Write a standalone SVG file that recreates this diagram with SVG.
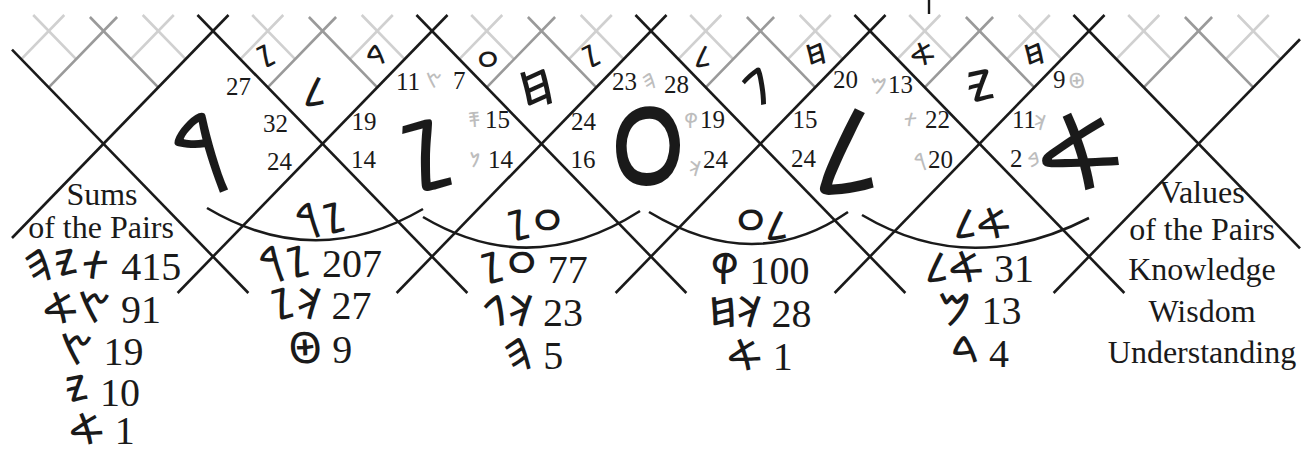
<svg xmlns="http://www.w3.org/2000/svg" xmlns:xlink="http://www.w3.org/1999/xlink" width="1301" height="455" viewBox="0 0 1301 455">
<style>
.blk{stroke:#1a1a1a;stroke-width:2.6;fill:none;stroke-linecap:butt}
.dk{stroke:#9a9a9a;stroke-width:2.6;fill:none}
.lt{stroke:#d0d0d0;stroke-width:2.6;fill:none}
text{direction:ltr;unicode-bidi:bidi-override;fill:#1a1a1a}
.ph{font-family:"Noto Sans Phoenician","DejaVu Sans",sans-serif}
.sr{font-family:"Liberation Serif","Times New Roman",serif}
.n{font-family:"Liberation Serif","Times New Roman",serif;font-size:25px}
.g{fill:#bdbdbd;font-family:"Noto Sans Phoenician","DejaVu Sans",sans-serif;font-size:21px}
.sm{font-size:31px}
.md{font-size:52px}
.lab{font-size:42px}
.row{font-size:40px}
.rg{font-size:43px}
.cap{font-size:32px}
</style>
<defs>
<path id="lx" d="M-15.53,-16L27.375,28.2M15.53,-16L-27.375,28.2" class="lt"/>
<path id="dx" d="M-13.59,-14L54.75,56.39M13.59,-14L-54.75,56.39" class="dk"/>
</defs>
<rect width="1301" height="455" fill="#fff"/>
<g id="connectors">
<g id="light-lattice">
<use xlink:href="#lx" x="48.75" y="31"/><use xlink:href="#lx" x="158.25" y="31"/>
<use xlink:href="#lx" x="267.75" y="31"/><use xlink:href="#lx" x="377.25" y="31"/>
<use xlink:href="#lx" x="486.75" y="31"/><use xlink:href="#lx" x="596.25" y="31"/>
<use xlink:href="#lx" x="705.75" y="31"/><use xlink:href="#lx" x="815.25" y="31"/>
<use xlink:href="#lx" x="924.75" y="31"/><use xlink:href="#lx" x="1034.25" y="31"/>
<use xlink:href="#lx" x="1143.75" y="31"/><use xlink:href="#lx" x="1253.25" y="31"/>
</g>
<g id="dark-lattice">
<use xlink:href="#dx" x="103.5" y="31"/><use xlink:href="#dx" x="322.5" y="31"/>
<use xlink:href="#dx" x="541.5" y="31"/><use xlink:href="#dx" x="760.5" y="31"/>
<use xlink:href="#dx" x="979.5" y="31"/><use xlink:href="#dx" x="1198.5" y="31"/>
</g>
<g id="black-lattice" class="blk">
<path d="M12,49.54L248.37,293"/>
<path d="M197.47,15L467.37,293"/>
<path d="M416.47,15L686.37,293"/>
<path d="M635.47,15L905.37,293"/>
<path d="M854.47,15L1124.37,293"/>
<path d="M1073.47,15L1300,248.33"/>
<path d="M228.53,15L12,238.03"/>
<path d="M447.53,15L177.63,293"/>
<path d="M666.53,15L396.63,293"/>
<path d="M885.53,15L615.63,293"/>
<path d="M1104.53,15L834.63,293"/>
<path d="M1300,39.24L1053.63,293"/>
<path d="M929,0V14" stroke-width="2.4"/>
</g>
<g id="arcs" class="blk">
<path d="M207,208Q315,272 423,209"/>
<path d="M423,217Q531,281 640,211"/>
<path d="M649,212Q755,276 848,212"/>
<path d="M862,215Q970,279 1089,218"/>
</g>
</g>
<g id="word" class="ph" text-anchor="middle">
<text x="199" y="182" font-size="96">&#x10913;</text>
<text x="427" y="190" font-size="97">&#x10906;</text>
<text transform="translate(648,223) scale(1,1.44)" font-size="112">&#x1090F;</text>
<text x="848" y="194" font-size="125">&#x1090B;</text>
<text x="1081" y="189" font-size="105">&#x10900;</text>
</g>
<g id="band-letters" class="ph" text-anchor="middle">
<text class="sm" x="266" y="67" transform="rotate(-12 266 57)">&#x10906;</text>
<text x="315" y="106" font-size="42">&#x1090B;</text>
<text class="sm" x="376" y="67">&#x10903;</text>
<text class="sm" x="488" y="74">&#x1090F;</text>
<text class="md" x="536" y="106" transform="rotate(-10 536 88)">&#x10907;</text>
<text class="sm" x="591" y="67" transform="rotate(-12 591 56)">&#x10906;</text>
<text class="sm" x="703" y="67">&#x1090B;</text>
<text class="md" x="756" y="105">&#x10902;</text>
<text class="sm" x="816" y="65" transform="rotate(-10 816 56)">&#x10907;</text>
<text class="sm" x="923" y="65">&#x10900;</text>
<text class="md" x="981" y="107">&#x10909;</text>
<text class="sm" x="1034" y="65" transform="rotate(-10 1034 54)">&#x10907;</text>
</g>
<g id="diamond-numbers">
<text class="n" x="238.5" y="95" text-anchor="middle">27</text>
<text class="n" x="275.5" y="132" text-anchor="middle">32</text>
<text class="n" x="279.5" y="170" text-anchor="middle">24</text>
<text class="n" x="364" y="130" text-anchor="middle">19</text>
<text class="n" x="363.5" y="168" text-anchor="middle">14</text>
<text class="n" x="396" y="90">11</text>
<text class="g" x="434" y="88" text-anchor="middle">&#x10911;</text>
<text class="n" x="453" y="89">7</text>
<text class="g" x="474" y="127" text-anchor="middle">&#x1090E;</text>
<text class="n" x="485" y="128">15</text>
<text class="g" x="475" y="167" text-anchor="middle">&#x1090D;</text>
<text class="n" x="488" y="168">14</text>
<text class="n" x="583.5" y="130" text-anchor="middle">24</text>
<text class="n" x="583" y="168" text-anchor="middle">16</text>
<text class="n" x="612" y="90">23</text>
<text class="g" x="649" y="88" text-anchor="middle">&#x10904;</text>
<text class="n" x="664" y="93">28</text>
<text class="g" x="691" y="128" text-anchor="middle">&#x10912;</text>
<text class="n" x="700" y="128">19</text>
<text class="g" x="695" y="176" text-anchor="middle">&#x1090A;</text>
<text class="n" x="703" y="168">24</text>
<text class="n" x="805" y="128" text-anchor="middle">15</text>
<text class="n" x="803.5" y="167" text-anchor="middle">24</text>
<text class="n" x="833" y="88">20</text>
<text class="g" x="879" y="93" text-anchor="middle">&#x1090C;</text>
<text class="n" x="888" y="93">13</text>
<text class="g" x="910.5" y="127" text-anchor="middle">&#x10915;</text>
<text class="n" x="925" y="128">22</text>
<text class="g" x="920" y="168" text-anchor="middle">&#x10913;</text>
<text class="n" x="928" y="168">20</text>
<text class="n" x="1053" y="88">9</text>
<text class="g" x="1076.5" y="88" text-anchor="middle">&#x10908;</text>
<text class="n" x="1012" y="128">11</text>
<text class="g" x="1040" y="130" text-anchor="middle">&#x1090A;</text>
<text class="n" x="1010" y="167">2</text>
<text class="g" x="1034" y="167" text-anchor="middle">&#x10901;</text>
</g>
<g id="arc-labels" class="ph lab" text-anchor="middle">
<text x="321" y="233">&#x10913;&#x10906;</text>
<text x="534" y="240">&#x10906;&#x1090F;</text>
<text x="762" y="240">&#x1090F;&#x1090B;</text>
<text x="983" y="238">&#x1090B;&#x10900;</text>
</g>
<g id="sums-column" text-anchor="middle">
<text class="sr cap" x="102" y="205">Sums</text>
<text class="sr cap" x="101" y="238">of the Pairs</text>
<text x="102" y="280"><tspan class="ph rg">&#x10904;&#x10909;&#x10915;</tspan><tspan class="sr row"> 415</tspan></text>
<text x="102" y="323"><tspan class="ph rg">&#x10900;&#x10911;</tspan><tspan class="sr row"> 91</tspan></text>
<text x="102" y="365"><tspan class="ph rg">&#x10911;</tspan><tspan class="sr row"> 19</tspan></text>
<text x="102" y="406"><tspan class="ph rg">&#x10909;</tspan><tspan class="sr row"> 10</tspan></text>
<text x="102" y="444"><tspan class="ph rg">&#x10900;</tspan><tspan class="sr row"> 1</tspan></text>
</g>
<g id="pair-1" text-anchor="middle">
<text x="320" y="277"><tspan class="ph rg">&#x10913;&#x10906;</tspan><tspan class="sr row"> 207</tspan></text>
<text x="320" y="319"><tspan class="ph rg">&#x10906;&#x1090A;</tspan><tspan class="sr row"> 27</tspan></text>
<text x="320" y="363"><tspan class="ph rg">&#x10908;</tspan><tspan class="sr row"> 9</tspan></text>
</g>
<g id="pair-2" text-anchor="middle">
<text x="533" y="283"><tspan class="ph rg">&#x10906;&#x1090F;</tspan><tspan class="sr row"> 77</tspan></text>
<text x="533" y="326"><tspan class="ph rg">&#x10902;&#x1090A;</tspan><tspan class="sr row"> 23</tspan></text>
<text x="533" y="369"><tspan class="ph rg">&#x10904;</tspan><tspan class="sr row"> 5</tspan></text>
</g>
<g id="pair-3" text-anchor="middle">
<text x="760" y="284"><tspan class="ph rg">&#x10912;</tspan><tspan class="sr row"> 100</tspan></text>
<text x="760" y="327"><tspan class="ph rg">&#x10907;&#x1090A;</tspan><tspan class="sr row"> 28</tspan></text>
<text x="760" y="370"><tspan class="ph rg">&#x10900;</tspan><tspan class="sr row"> 1</tspan></text>
</g>
<g id="pair-4" text-anchor="middle">
<text x="980" y="282"><tspan class="ph rg">&#x1090B;&#x10900;</tspan><tspan class="sr row"> 31</tspan></text>
<text x="980" y="324"><tspan class="ph rg">&#x1090C;</tspan><tspan class="sr row"> 13</tspan></text>
<text x="980" y="367"><tspan class="ph rg">&#x10903;</tspan><tspan class="sr row"> 4</tspan></text>
</g>
<g id="values-column" class="sr cap" text-anchor="middle">
<text x="1202" y="203">Values</text>
<text x="1202" y="240">of the Pairs</text>
<text x="1202" y="280">Knowledge</text>
<text x="1202" y="322">Wisdom</text>
<text x="1202" y="363">Understanding</text>
</g>
</svg>
